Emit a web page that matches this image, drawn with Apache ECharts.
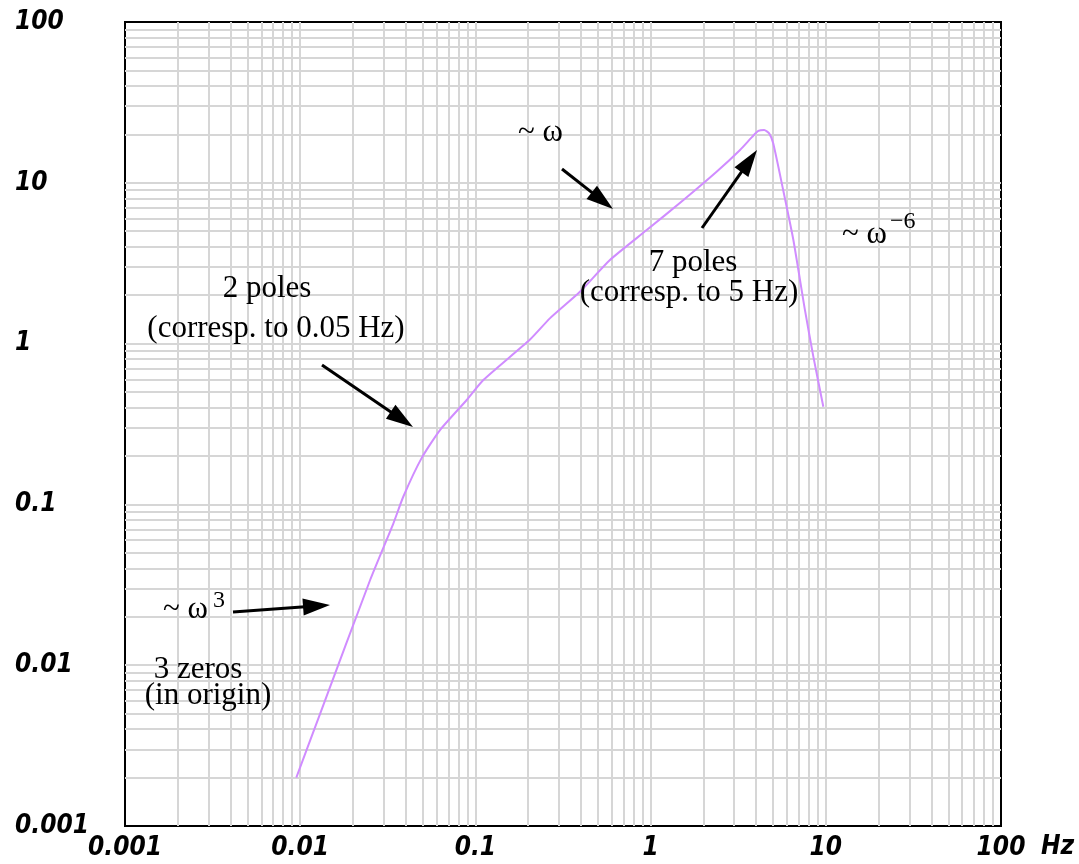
<!DOCTYPE html>
<html><head><meta charset="utf-8">
<script src="https://cdn.jsdelivr.net/npm/echarts/dist/echarts.min.js"></script>
<style>html,body{margin:0;padding:0;background:#fff}#c{width:1079px;height:864px}</style>
</head><body><div id="c"></div>
<script>
// Frequency (Hz) and response magnitude
const freqHz = [0.0095, 0.013, 0.0251, 0.034, 0.0388, 0.0493, 0.0628, 0.0892, 0.111, 0.205, 0.267, 0.395, 0.586, 0.95, 1.54, 2.38, 3.24, 3.8, 4.12, 4.45, 4.75, 5.01, 5.71, 6.53, 7.6, 8.49, 9.68];
const magnitude = [0.002, 0.005, 0.034, 0.076, 0.112, 0.194, 0.29, 0.446, 0.594, 1.06, 1.44, 2.1, 3.31, 5.08, 7.81, 11.7, 16.0, 19.3, 21.0, 21.3, 20.3, 17.6, 9.02, 4.41, 1.62, 0.83, 0.405];

const majorTicks = [0.001, 0.01, 0.1, 1, 10, 100];
const majorTickLabels = ['0.001', '0.01', '0.1', '1', '10', '100'];
const gridValues = [
  0.001, 0.002, 0.003, 0.004, 0.005, 0.006, 0.007, 0.008, 0.009,
  0.01, 0.02, 0.03, 0.04, 0.05, 0.06, 0.07, 0.08, 0.09,
  0.1, 0.2, 0.3, 0.4, 0.5, 0.6, 0.7, 0.8, 0.9,
  1, 2, 3, 4, 5, 6, 7, 8, 9,
  10, 20, 30, 40, 50, 60, 70, 80, 90, 100
];
const xAxisUnit = 'Hz';

const seriesData = freqHz.map((f, i) => [f, magnitude[i]]);

function tickLabel(v) {
  for (let i = 0; i < majorTicks.length; i++) {
    if (Math.abs(Math.log10(v) - Math.log10(majorTicks[i])) < 1e-6) return majorTickLabels[i];
  }
  return '';
}

const labelFont = "'Liberation Sans Narrow','DejaVu Sans Condensed','Arial Narrow','Liberation Sans',sans-serif";
const serif = "'Liberation Serif','Times New Roman',serif";

const axisLabelStyle = {
  fontFamily: labelFont, fontSize: 26, fontWeight: 'bold', fontStyle: 'italic', color: '#000'
};
const splitLineStyle = { show: true, showMinLine: false, showMaxLine: false, lineStyle: { color: '#d6d6d6', width: 2 } };

function arrow(x1, y1, x2, y2) {
  const dx = x2 - x1, dy = y2 - y1, L = Math.sqrt(dx * dx + dy * dy);
  const ux = dx / L, uy = dy / L, head = 27, hw = 8.5;
  const bx = x2 - ux * head, by = y2 - uy * head;
  return [
    { type: 'line', z: 100, shape: { x1: x1, y1: y1, x2: bx + ux * 2, y2: by + uy * 2 }, style: { stroke: '#000', lineWidth: 3 } },
    { type: 'polygon', z: 100, shape: { points: [[x2, y2], [bx - uy * hw, by + ux * hw], [bx + uy * hw, by - ux * hw]] }, style: { fill: '#000' } }
  ];
}
function txt(text, x, y, align, size) {
  return { type: 'text', z: 100, x: x, y: y, style: { text: text, font: (size || 31) + 'px ' + serif, fill: '#000', align: align || 'center', verticalAlign: 'middle' } };
}

const chart = echarts.init(document.getElementById('c'), null, { renderer: 'canvas' });
chart.setOption({
  animation: false,
  backgroundColor: '#fff',
  grid: { left: 125, right: 78, top: 22, bottom: 38, show: true, borderColor: '#000', borderWidth: 2, backgroundColor: 'transparent' },
  xAxis: {
    type: 'log', logBase: 10, min: 0.001, max: 100,
    name: xAxisUnit, nameLocation: 'end', nameGap: 40,
    nameTextStyle: Object.assign({}, axisLabelStyle, { align: 'left', verticalAlign: 'top', padding: [8, 0, 0, 0] }),
    axisLine: { show: false },
    axisTick: { show: false, customValues: gridValues },
    axisLabel: Object.assign({ customValues: majorTicks, margin: 9, formatter: tickLabel, showMinLabel: true, showMaxLabel: true, hideOverlap: false }, axisLabelStyle),
    splitLine: splitLineStyle,
    minorSplitLine: { show: false }
  },
  yAxis: {
    type: 'log', logBase: 10, min: 0.001, max: 100,
    axisLine: { show: false },
    axisTick: { show: false, customValues: gridValues },
    axisLabel: Object.assign({ customValues: majorTicks, margin: 110, align: 'left', formatter: tickLabel, showMinLabel: true, showMaxLabel: true, hideOverlap: false }, axisLabelStyle),
    splitLine: splitLineStyle
  },
  series: [{
    type: 'line', data: seriesData, showSymbol: false, symbol: 'none', smooth: 0.2,
    lineStyle: { color: '#d08cff', width: 2 }, z: 10
  }],
  graphic: [].concat(
    [txt('~ ω', 518, 133, 'left')],
    arrow(562, 169, 613, 209),
    [txt('~ ω', 842, 235, 'left'), txt('−6', 890, 222, 'left', 24)],
    [txt('7 poles', 693, 263), txt('(corresp. to 5 Hz)', 689, 293)],
    arrow(702, 228, 757, 150),
    [txt('2 poles', 267, 289), txt('(corresp. to 0.05 Hz)', 276, 329)],
    arrow(322, 365, 413, 427),
    [txt('~ ω', 163, 610, 'left'), txt('3', 213, 601, 'left', 24)],
    arrow(233, 612, 330, 605),
    [txt('3 zeros', 198, 670), txt('(in origin)', 208, 696)]
  )
});
</script>
</body></html>
